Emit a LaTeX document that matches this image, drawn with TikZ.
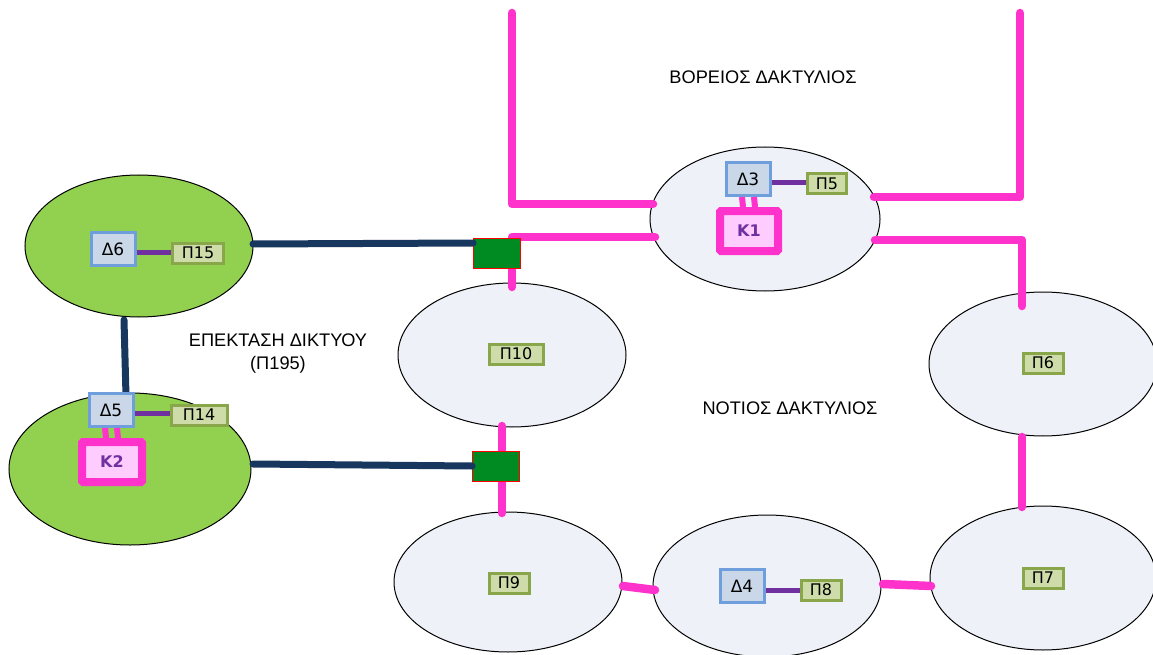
\documentclass[tikz,border=0pt]{standalone}
\usepackage{fontspec}
\setmainfont{Liberation Sans}
\newfontfamily\boxfont{DejaVu Sans}
\usetikzlibrary{shapes.geometric}
\definecolor{ringpink}{HTML}{FF33CC}
\definecolor{ellfill}{HTML}{EEF1F7}
\definecolor{grnfill}{HTML}{92D050}
\definecolor{dfill}{HTML}{C9D7E8}
\definecolor{dborder}{HTML}{6F9EDC}
\definecolor{pfill}{HTML}{CDDCA9}
\definecolor{pborder}{HTML}{8AA64B}
\definecolor{kfill}{HTML}{FFCCFF}
\definecolor{kpurple}{HTML}{7030A0}
\definecolor{linkpurple}{HTML}{7030A0}
\definecolor{navy}{HTML}{17375E}
\definecolor{sqgreen}{HTML}{008A22}
\tikzset{
  x=1pt,y=-1pt,
  site/.style={ellipse,draw=black,line width=1pt,fill=ellfill,inner sep=0pt},
  gsite/.style={site,fill=grnfill},
  dbox/.style={draw=dborder,line width=3pt,fill=dfill,minimum width=44pt,minimum height=33pt,inner sep=0pt,font=\boxfont\fontsize{17}{19}\selectfont},
  pbox/.style={draw=pborder,line width=3pt,fill=pfill,minimum height=20pt,inner sep=0pt,font=\boxfont\fontsize{16}{18}\selectfont},
  kbox/.style={draw=ringpink,line width=8pt,fill=kfill,minimum width=58pt,minimum height=40pt,inner sep=0pt,rounded corners=1pt,text=kpurple,font=\boxfont\bfseries\fontsize{16}{18}\selectfont},
  ring/.style={draw=ringpink,line width=8.5pt,line cap=round,line join=round},
  navyline/.style={draw=navy,line width=7pt,line cap=round},
  plink/.style={draw=linkpurple,line width=5pt},
  klink/.style={draw=ringpink,line width=6pt},
  junction/.style={draw=red,line width=0.8pt,fill=sqgreen,minimum width=47pt,minimum height=30pt,inner sep=0pt},
  title/.style={font=\fontsize{18.2}{21}\selectfont,align=center}
}
\begin{document}
\begin{tikzpicture}
\useasboundingbox (0,0) rectangle (1153,655);
% ellipses
\node[site,minimum width=230pt,minimum height=144pt] (eA) at (765,219) {};
\node[site,minimum width=228pt,minimum height=144pt] (e10) at (512,355) {};
\node[site,minimum width=228pt,minimum height=144pt] (e6) at (1043,364) {};
\node[site,minimum width=226pt,minimum height=144pt] (e7) at (1043,578) {};
\node[site,minimum width=228pt,minimum height=140pt] (e9) at (508,582) {};
\node[site,minimum width=228pt,minimum height=142pt] (e4) at (767,586) {};
\node[gsite,minimum width=228pt,minimum height=142pt] (e15) at (139,246) {};
\node[gsite,minimum width=242pt,minimum height=152pt] (e14) at (130,469) {};
% ring coordinates
\coordinate (nw) at (512,13);
\coordinate (nwc) at (512,204);
\coordinate (aL1) at (653,204);
\coordinate (ne) at (1020,13);
\coordinate (nec) at (1020,197);
\coordinate (aR1) at (874,197);
\coordinate (aR2) at (875,240);
\coordinate (e6c) at (1022,240);
\coordinate (e6t) at (1022,306);
\coordinate (aL2) at (655,237);
\coordinate (jtc) at (512,237);
\coordinate (e10t) at (512,287);
\coordinate (e10b) at (502,426);
\coordinate (e9t) at (502,513);
\coordinate (e6b) at (1022,437);
\coordinate (e7t) at (1022,507);
\coordinate (e7l) at (931,586);
\coordinate (e4r) at (883,584);
\coordinate (e4l) at (655,590);
\coordinate (e9r) at (623,586);
% pink ring lines
\draw[ring] (nw) -- (nwc) -- (aL1);
\draw[ring] (ne) -- (nec) -- (aR1);
\draw[ring] (aR2) -- (e6c) -- (e6t);
\draw[ring] (aL2) -- (jtc) -- (e10t);
\draw[ring] (e10b) -- (e9t);
\draw[ring] (e6b) -- (e7t);
\draw[ring] (e7l) -- (e4r);
\draw[ring] (e4l) -- (e9r);
% junction squares
\node[junction] (jt) at (497,253) {};
\node[junction] (jb) at (496,466) {};
% navy lines
\coordinate (e15r) at (253,244);
\coordinate (e15b) at (124,320);
\coordinate (e14r) at (253,464);
\coordinate (d5top) at (126,396);
\draw[navyline] (e15r) -- ([yshift=10pt]jt.west);
\draw[navyline] (e14r) -- (jb.west);
% boxes
\node[dbox] (d3) at (748,179) {Δ3};
\node[pbox,minimum width=39pt] (p5) at (827,184) {Π5};
\node[kbox] (k1) at (749,231) {K1};
\draw[plink] (d3.east |- 0,183) -- (p5.west |- 0,183);
\draw[klink] ([xshift=-6pt]d3.south) -- ([xshift=-6pt]k1.north);
\draw[klink] ([xshift=6pt]d3.south) -- ([xshift=6pt]k1.north);

\node[dbox] (d6) at (113,249) {Δ6};
\node[pbox,minimum width=51pt] (p15) at (198,253) {Π15};
\draw[plink] (d6.east |- 0,252) -- (p15.west |- 0,252);

\draw[navyline] (e15b) -- (d5top);
\node[dbox] (d5) at (111,410) {Δ5};
\node[pbox,minimum width=56pt] (p14) at (199,415) {Π14};
\node[kbox,minimum width=60pt] (k2) at (112,462) {K2};
\draw[plink] (d5.east |- 0,413) -- (p14.west |- 0,413);
\draw[klink] ([xshift=-6pt]d5.south) -- ([xshift=-6pt]k2.north);
\draw[klink] ([xshift=6pt]d5.south) -- ([xshift=6pt]k2.north);

\node[pbox,minimum width=54pt] (p10) at (516,354) {Π10};
\node[pbox,minimum width=40pt] (p6) at (1043,363) {Π6};
\node[pbox,minimum width=40pt] (p7) at (1043,578) {Π7};
\node[pbox,minimum width=40pt] (p9) at (509,583) {Π9};
\node[dbox] (d4) at (742,586) {Δ4};
\node[pbox,minimum width=40pt] (p8) at (821,590) {Π8};
\draw[plink] (d4.east |- 0,590) -- (p8.west |- 0,590);
% titles
\node[title] (tn) at (763,77) {ΒΟΡΕΙΟΣ ΔΑΚΤΥΛΙΟΣ};
\node[title] (ts) at (790,408) {ΝΟΤΙΟΣ ΔΑΚΤΥΛΙΟΣ};
\node[title,font=\fontsize{18.2}{23}\selectfont] (te) at (278,354) {ΕΠΕΚΤΑΣΗ ΔΙΚΤΥΟΥ\\(Π195)};
\end{tikzpicture}
\end{document}
